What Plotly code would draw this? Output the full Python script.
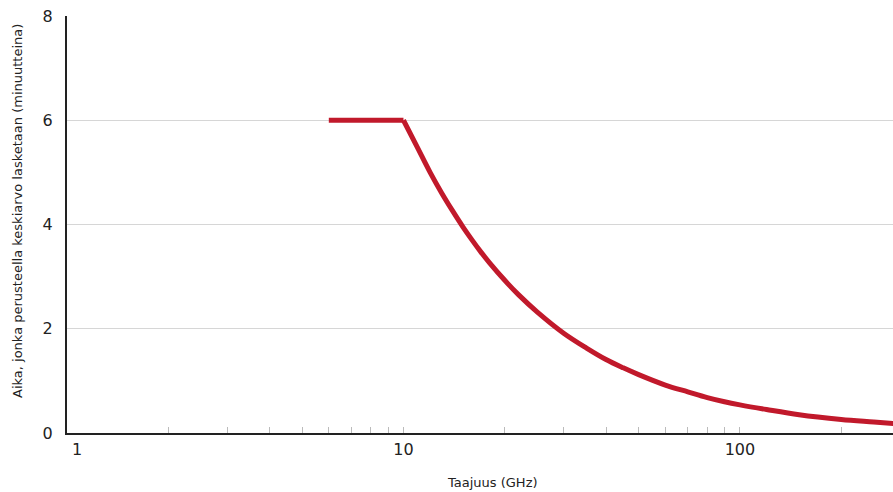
import plotly.graph_objects as go

# Averaging time (minutes) against frequency (GHz)
# Constant part below 10 GHz
flat_freq_ghz = [6, 10]
flat_minutes = [6.0, 6.0]
# Decreasing part from 10 GHz upwards
freq_ghz = [10, 11, 12, 13, 14, 15, 16, 17, 18, 20, 22, 25, 30, 35, 40, 45, 50,
            60, 70, 80, 90, 100, 120, 150, 200, 250, 300]
avg_minutes = [6.0, 5.48, 5.00, 4.60, 4.26, 3.96, 3.70, 3.47, 3.27, 2.93,
               2.65, 2.32, 1.91, 1.63, 1.41, 1.25, 1.12, 0.92, 0.79, 0.68,
               0.60, 0.54, 0.45, 0.35, 0.26, 0.21, 0.17]

x_tick_vals = [1, 2, 3, 4, 5, 6, 7, 8, 9, 10, 20, 30, 40, 50, 60, 70, 80, 90,
               100, 200, 300]
x_tick_text = ["\u00a0\u00a0\u00a0\u00a01", "", "", "", "", "", "", "", "", "10",
               "", "", "", "", "", "", "", "", "100", "", ""]
y_tick_vals = [0, 2, 4, 6, 8]

x_title = "Taajuus (GHz)"
y_title = "Aika, jonka perusteella keskiarvo lasketaan (minuutteina)"

FONT = "DejaVu Sans"
RED = "#C1192B"

fig = go.Figure()
fig.add_trace(go.Scatter(
    x=flat_freq_ghz, y=flat_minutes, mode="lines",
    line=dict(color=RED, width=5),
    hoverinfo="x+y", showlegend=False,
))
fig.add_trace(go.Scatter(
    x=freq_ghz, y=avg_minutes, mode="lines",
    line=dict(color=RED, width=5, shape="spline", smoothing=1),
    hoverinfo="x+y", showlegend=False,
))

fig.update_layout(
    width=893, height=492,
    margin=dict(l=67, r=0, t=16, b=59),
    paper_bgcolor="white", plot_bgcolor="white",
    font=dict(family=FONT, color="#222"),
    xaxis=dict(
        type="log", range=[0, 2.455],
        tickvals=x_tick_vals, ticktext=x_tick_text,
        ticks="inside", ticklen=6, tickwidth=1, tickcolor="#bbbbbb",
        tickfont=dict(size=16, color="#222"),
        ticklabelstandoff=1,
        showgrid=False, zeroline=False,
        showline=True, linecolor="#222", linewidth=2,
    ),
    yaxis=dict(
        range=[0, 8], tickvals=y_tick_vals,
        tickfont=dict(size=16, color="#222"),
        ticks="", ticklabelstandoff=9,
        showgrid=True, gridcolor="#d6d6d6", gridwidth=1,
        zeroline=False,
        showline=True, linecolor="#222", linewidth=2,
    ),
    annotations=[
        dict(text=x_title, xref="paper", yref="paper",
             x=(492 - 67) / 826, y=-50 / 417, xanchor="center", yanchor="middle",
             showarrow=False, font=dict(family=FONT, size=13, color="#222")),
        dict(text=y_title, xref="paper", yref="paper",
             x=-50 / 826, y=(433 - 211) / 417, xanchor="center", yanchor="middle",
             textangle=-90, showarrow=False,
             font=dict(family=FONT, size=13, color="#222")),
    ],
)

fig.write_html("out.html")
